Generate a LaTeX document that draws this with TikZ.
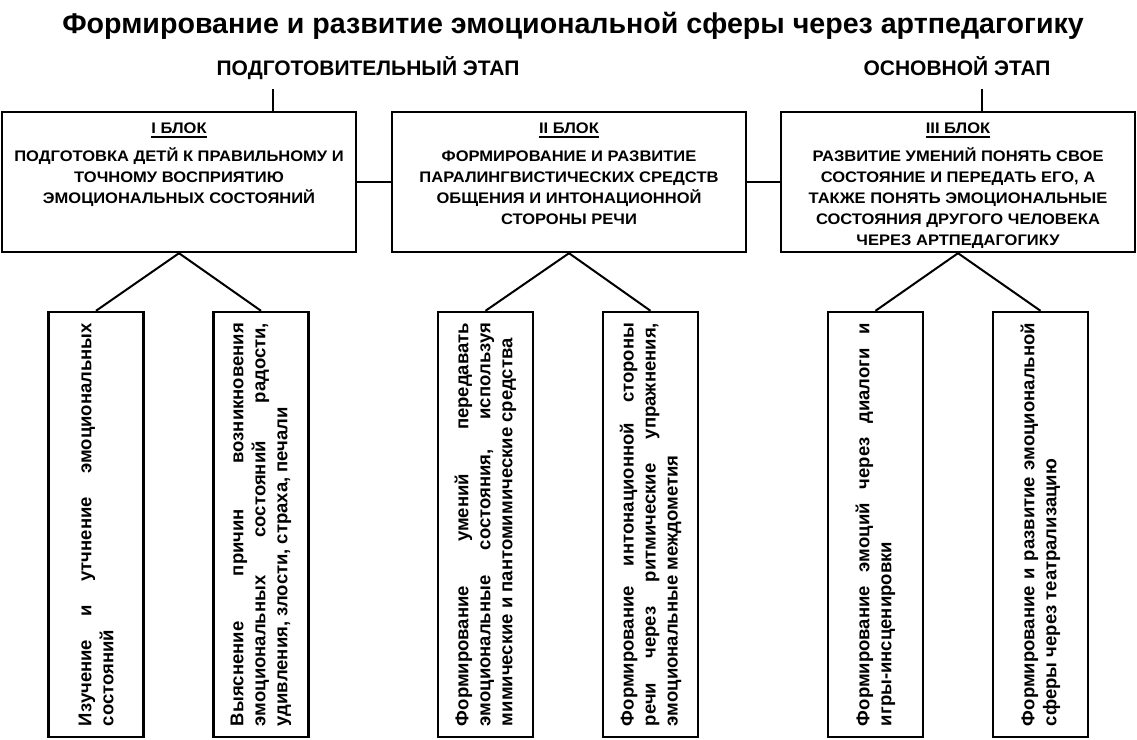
\documentclass[tikz,border=0pt]{standalone}
\usepackage{fontspec}
\setmainfont{Liberation Sans}
\newfontfamily\blkfont[FakeStretch=1.08]{Liberation Sans}
\hyphenpenalty=10000 \exhyphenpenalty=10000
\begin{document}
\begin{tikzpicture}[x=1pt,y=-1pt,
  blockbox/.style={draw, line width=2.4pt, minimum width=354pt, minimum height=140pt, inner sep=0pt},
  blocktext/.style={align=center, font=\blkfont\fontsize{15.3}{21}\selectfont\bfseries, inner sep=0pt, anchor=north},
  blocklabel/.style={font=\blkfont\fontsize{15.3}{21}\selectfont\bfseries, inner sep=0pt, anchor=base},
  uline/.style={line width=1.6pt},
  vbox/.style={draw, line width=2.4pt, rotate=90, minimum width=425pt, minimum height=95pt, text width=403pt, align=justify, inner sep=0pt, font=\fontsize{18.5}{22}\selectfont\bfseries},
  conn/.style={line width=2pt},
  heading/.style={font=\fontsize{21}{25}\selectfont\bfseries, inner sep=0pt, anchor=base},
]
\useasboundingbox (0,0) rectangle (1137,739);
\fill[white] (0,0) rectangle (1137,739);

\node[font=\fontsize{28.6}{34}\selectfont\bfseries, anchor=base, inner sep=0pt] (title) at (573,33) {Формирование и развитие эмоциональной сферы через артпедагогику};

\node[heading] (h1) at (368,75.7) {ПОДГОТОВИТЕЛЬНЫЙ ЭТАП};
\node[heading] (h2) at (957,75.7) {ОСНОВНОЙ ЭТАП};

\node[blockbox] (b1) at (179,182) {};
\node[blockbox] (b2) at (569,182) {};
\node[blockbox] (b3) at (958,182) {};

\node[blocklabel] (l1) at (179,133.8) {I БЛОК};
\node[blocklabel] (l2) at (569,133.8) {II БЛОК};
\node[blocklabel] (l3) at (958,133.8) {III БЛОК};
\draw[uline] ([yshift=-3.2pt]l1.base west) -- ([yshift=-3.2pt]l1.base east);
\draw[uline] ([yshift=-3.2pt]l2.base west) -- ([yshift=-3.2pt]l2.base east);
\draw[uline] ([yshift=-3.2pt]l3.base west) -- ([yshift=-3.2pt]l3.base east);

\node[blocktext] (t1) at (179,146.3) {\rule{0pt}{15pt}ПОДГОТОВКА ДЕТЙ К ПРАВИЛЬНОМУ И\\ТОЧНОМУ ВОСПРИЯТИЮ\\ЭМОЦИОНАЛЬНЫХ СОСТОЯНИЙ};
\node[blocktext] (t2) at (569,146.3) {\rule{0pt}{15pt}ФОРМИРОВАНИЕ И РАЗВИТИЕ\\ПАРАЛИНГВИСТИЧЕСКИХ СРЕДСТВ\\ОБЩЕНИЯ И ИНТОНАЦИОННОЙ\\СТОРОНЫ РЕЧИ};
\node[blocktext] (t3) at (958,146.3) {\rule{0pt}{15pt}РАЗВИТИЕ УМЕНИЙ ПОНЯТЬ СВОЕ\\СОСТОЯНИЕ И ПЕРЕДАТЬ ЕГО, А\\ТАКЖЕ ПОНЯТЬ ЭМОЦИОНАЛЬНЫЕ\\СОСТОЯНИЯ ДРУГОГО ЧЕЛОВЕКА\\ЧЕРЕЗ АРТПЕДАГОГИКУ};

\coordinate (s1) at (273,89);
\coordinate (s3) at (982,89);
\draw[conn] (s1) -- (s1 |- b1.north);
\draw[conn] (s3) -- (s3 |- b3.north);
\draw[conn] (b1.east) -- (b2.west);
\draw[conn] (b2.east) -- (b3.west);

\node[vbox] (v1) at (96,524.5) {Изучение и утчнение эмоциональных\linebreak состояний};
\node[vbox] (v2) at (261,524.5) {Выяснение причин возникновения\linebreak эмоциональных состояний радости,\linebreak удивления, злости, страха, печали};
\node[vbox] (v3) at (485.5,524.5) {Формирование умений передавать\linebreak эмоциональные состояния, используя\linebreak мимические и пантомимические средства};
\node[vbox] (v4) at (650.5,524.5) {Формирование интонационной стороны\linebreak речи через ритмические упражнения,\linebreak эмоциональные междометия};
\node[vbox] (v5) at (875.5,524.5) {Формирование эмоций через диалоги и\linebreak игры-инсценировки};
\node[vbox] (v6) at (1040.5,524.5) {Формирование и развитие эмоциональной\linebreak сферы через театрализацию};

\draw[conn] (b1.south) -- (v1.east);
\draw[conn] (b1.south) -- (v2.east);
\draw[conn] (b2.south) -- (v3.east);
\draw[conn] (b2.south) -- (v4.east);
\draw[conn] (b3.south) -- (v5.east);
\draw[conn] (b3.south) -- (v6.east);
\end{tikzpicture}
\end{document}
